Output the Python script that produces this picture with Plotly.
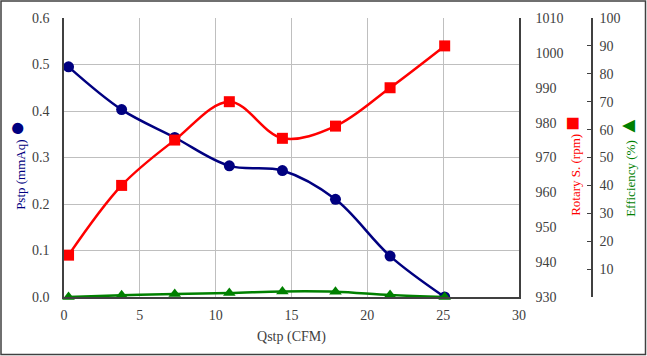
import plotly.graph_objects as go

qstp = [0.3, 3.8, 7.3, 10.9, 14.4, 17.9, 21.5, 25.1]
pstp = [0.495, 0.403, 0.343, 0.282, 0.272, 0.210, 0.088, 0.0]
rotary = [942, 962, 975, 986, 975.5, 979, 990, 1002]
efficiency = [0.0, 0.6, 1.1, 1.4, 2.0, 1.9, 0.7, 0.0]

W, H = 647, 356
ML, MR, MT, MB = 64, 55, 18, 59
plot_w = W - ML - MR
xdom_end = (519 - ML) / plot_w

FONT = "Liberation Serif"
GRAY = "#404040"

fig = go.Figure()
fig.add_trace(go.Scatter(x=qstp, y=pstp, mode="lines+markers", name="Pstp",
                         line=dict(color="#000080", width=2.5, shape="spline"),
                         marker=dict(symbol="circle", size=11, color="#000080"),
                         yaxis="y"))
fig.add_trace(go.Scatter(x=qstp, y=rotary, mode="lines+markers", name="Rotary S.",
                         line=dict(color="#FF0000", width=2.5, shape="spline"),
                         marker=dict(symbol="square", size=11, color="#FF0000"),
                         yaxis="y2"))
fig.add_trace(go.Scatter(x=qstp, y=efficiency, mode="lines+markers", name="Efficiency",
                         line=dict(color="#008000", width=2.5, shape="spline"),
                         marker=dict(symbol="triangle-up", size=11, color="#008000"),
                         yaxis="y3", cliponaxis=False))

eff_ticks = list(range(0, 101, 10))
eff_text = ["" if v == 0 else str(v) for v in eff_ticks]

tickfont = dict(family=FONT, size=14, color=GRAY)

fig.update_layout(
    width=W, height=H,
    margin=dict(l=ML, r=MR, t=MT, b=MB),
    paper_bgcolor="white", plot_bgcolor="white",
    showlegend=False,
    font=dict(family=FONT, size=14, color=GRAY),
    xaxis=dict(domain=[0, xdom_end], range=[0, 30], dtick=5, tick0=0,
               showgrid=True, gridcolor="#bfbfbf", gridwidth=1,
               showline=True, linecolor=GRAY, linewidth=1.5,
               ticks="", zeroline=False, ticklabelstandoff=4, tickfont=tickfont,
               title=dict(text="Qstp (CFM)", font=dict(family=FONT, size=14, color=GRAY), standoff=10)),
    yaxis=dict(range=[0, 0.6], dtick=0.1, tick0=0, tickformat=".1f",
               showgrid=True, gridcolor="#bfbfbf", gridwidth=1,
               showline=True, linecolor=GRAY, linewidth=1.5,
               ticks="", zeroline=False, ticklabelstandoff=10, tickfont=tickfont),
    yaxis2=dict(overlaying="y", side="right", anchor="x", range=[930, 1010], dtick=10, tick0=930,
                showgrid=False, showline=True, linecolor=GRAY, linewidth=1.5,
                ticks="", zeroline=False, ticklabelstandoff=12, tickfont=tickfont),
    yaxis3=dict(overlaying="y", side="right", anchor="free", position=1.0, range=[0, 100],
                tickvals=eff_ticks, ticktext=eff_text,
                showgrid=False, showline=True, linecolor=GRAY, linewidth=1.5,
                ticks="inside", ticklen=4, tickcolor=GRAY, zeroline=False, ticklabelstandoff=4,
                tickfont=tickfont),
)

# axis titles (rotated, with symbol glyphs)
TY = 0.47
fig.add_annotation(xref="paper", yref="paper", x=-(ML - 17) / plot_w, y=TY,
                   text='Pstp (mmAq) <span style="font-size:26px">●</span>', textangle=-90,
                   showarrow=False, font=dict(family=FONT, size=13, color="#000080"),
                   xanchor="center", yanchor="middle")
fig.add_annotation(xref="paper", yref="paper", x=(572 - ML) / plot_w, y=TY,
                   text='Rotary S. (rpm) <span style="font-size:24px">■</span>', textangle=-90,
                   showarrow=False, font=dict(family=FONT, size=13, color="#FF0000"),
                   xanchor="center", yanchor="middle")
fig.add_annotation(xref="paper", yref="paper", x=(628 - ML) / plot_w, y=TY,
                   text='Efficiency (%) <span style="font-size:22px">▲</span>', textangle=-90,
                   showarrow=False, font=dict(family=FONT, size=13, color="#008000"),
                   xanchor="center", yanchor="middle")

# outer chart frame
plot_h = H - MT - MB
fig.add_shape(type="rect", xref="paper", yref="paper",
              x0=-(ML - 1) / plot_w, x1=1 + (MR - 1.5) / plot_w,
              y0=-(MB - 1.5) / plot_h, y1=1 + (MT - 1) / plot_h,
              line=dict(color=GRAY, width=1.5), layer="below")

fig.write_html("out.html", config={"displayModeBar": False},
               post_script="document.body.style.margin='0';document.body.style.overflow='hidden';")
